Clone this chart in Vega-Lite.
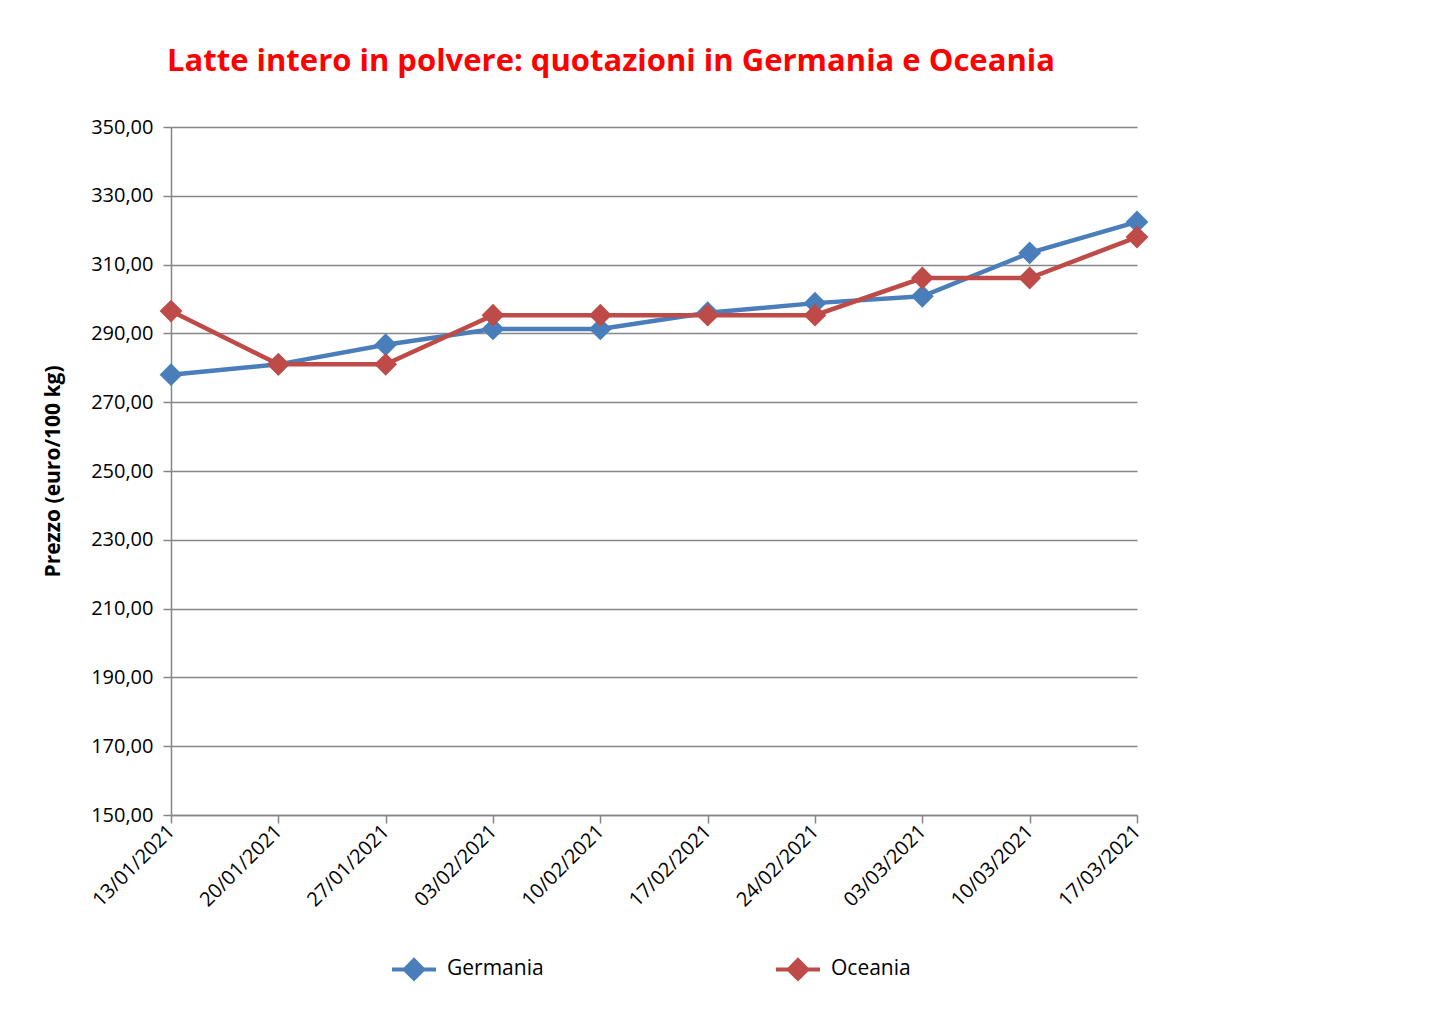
{
  "$schema": "https://vega.github.io/schema/vega-lite/v6.json",
  "width": 966,
  "height": 688,
  "autosize": {"type": "none"},
  "padding": {"left": 171, "top": 127, "right": 316, "bottom": 209},
  "background": "white",
  "title": {
    "text": "Latte intero in polvere: quotazioni in Germania e Oceania",
    "anchor": "start",
    "frame": "group",
    "color": "#FF0000",
    "font": "Open Sans",
    "fontWeight": "bold",
    "fontSize": 31,
    "dx": -4,
    "offset": 39
  },
  "data": {
    "values": [
      {"data": "13/01/2021", "serie": "Germania", "prezzo": 278.0},
      {"data": "20/01/2021", "serie": "Germania", "prezzo": 281.0},
      {"data": "27/01/2021", "serie": "Germania", "prezzo": 286.7},
      {"data": "03/02/2021", "serie": "Germania", "prezzo": 291.3},
      {"data": "10/02/2021", "serie": "Germania", "prezzo": 291.3},
      {"data": "17/02/2021", "serie": "Germania", "prezzo": 296.0},
      {"data": "24/02/2021", "serie": "Germania", "prezzo": 298.8},
      {"data": "03/03/2021", "serie": "Germania", "prezzo": 300.8},
      {"data": "10/03/2021", "serie": "Germania", "prezzo": 313.4},
      {"data": "17/03/2021", "serie": "Germania", "prezzo": 322.4},
      {"data": "13/01/2021", "serie": "Oceania", "prezzo": 296.5},
      {"data": "20/01/2021", "serie": "Oceania", "prezzo": 281.0},
      {"data": "27/01/2021", "serie": "Oceania", "prezzo": 281.0},
      {"data": "03/02/2021", "serie": "Oceania", "prezzo": 295.3},
      {"data": "10/02/2021", "serie": "Oceania", "prezzo": 295.3},
      {"data": "17/02/2021", "serie": "Oceania", "prezzo": 295.3},
      {"data": "24/02/2021", "serie": "Oceania", "prezzo": 295.3},
      {"data": "03/03/2021", "serie": "Oceania", "prezzo": 306.1},
      {"data": "10/03/2021", "serie": "Oceania", "prezzo": 306.1},
      {"data": "17/03/2021", "serie": "Oceania", "prezzo": 318.0}
    ]
  },
  "mark": {"type": "line", "strokeWidth": 4.5, "point": {"shape": "diamond", "size": 520, "filled": true, "opacity": 1}},
  "encoding": {
    "x": {
      "field": "data",
      "type": "ordinal",
      "sort": null,
      "scale": {"type": "point", "padding": 0},
      "axis": {
        "title": null,
        "labelAngle": -45,
        "labelAlign": "right",
        "labelBaseline": "middle",
        "labelFont": "Open Sans",
        "labelFontSize": 20,
        "labelColor": "black",
        "labelPadding": 5,
        "tickSize": 8,
        "tickColor": "#868686",
        "tickWidth": 1.5,
        "domainColor": "#868686",
        "domainWidth": 1.5,
        "grid": false
      }
    },
    "y": {
      "field": "prezzo",
      "type": "quantitative",
      "scale": {"domain": [150, 350], "nice": false, "zero": false},
      "axis": {
        "title": "Prezzo (euro/100 kg)",
        "titleFont": "Open Sans",
        "titleFontSize": 21,
        "titleFontWeight": "bold",
        "titleColor": "black",
        "titlePadding": 27,
        "values": [150, 170, 190, 210, 230, 250, 270, 290, 310, 330, 350],
        "labelExpr": "replace(format(datum.value, '.2f'), '.', ',')",
        "labelFont": "Open Sans",
        "labelFontSize": 20,
        "labelColor": "black",
        "labelPadding": 10,
        "tickSize": 8,
        "tickColor": "#868686",
        "tickWidth": 1.5,
        "domainColor": "#868686",
        "domainWidth": 1.5,
        "grid": true,
        "gridColor": "#868686",
        "gridWidth": 1.5,
        "gridOpacity": 1
      }
    },
    "color": {
      "field": "serie",
      "type": "nominal",
      "scale": {"domain": ["Germania", "Oceania"], "range": ["#4A7EBB", "#BE4B48"]},
      "legend": {
        "title": null,
        "orient": "none",
        "legendX": 219,
        "legendY": 818,
        "direction": "horizontal",
        "symbolType": "M-1,0H1M0,-0.42L0.42,0L0,0.42L-0.42,0Z",
        "symbolSize": 1936,
        "symbolStrokeWidth": 4,
        "labelFont": "Open Sans",
        "labelFontSize": 21,
        "labelColor": "black",
        "labelOffset": 9,
        "columnPadding": 224
      }
    }
  },
  "config": {"view": {"stroke": null}}
}
